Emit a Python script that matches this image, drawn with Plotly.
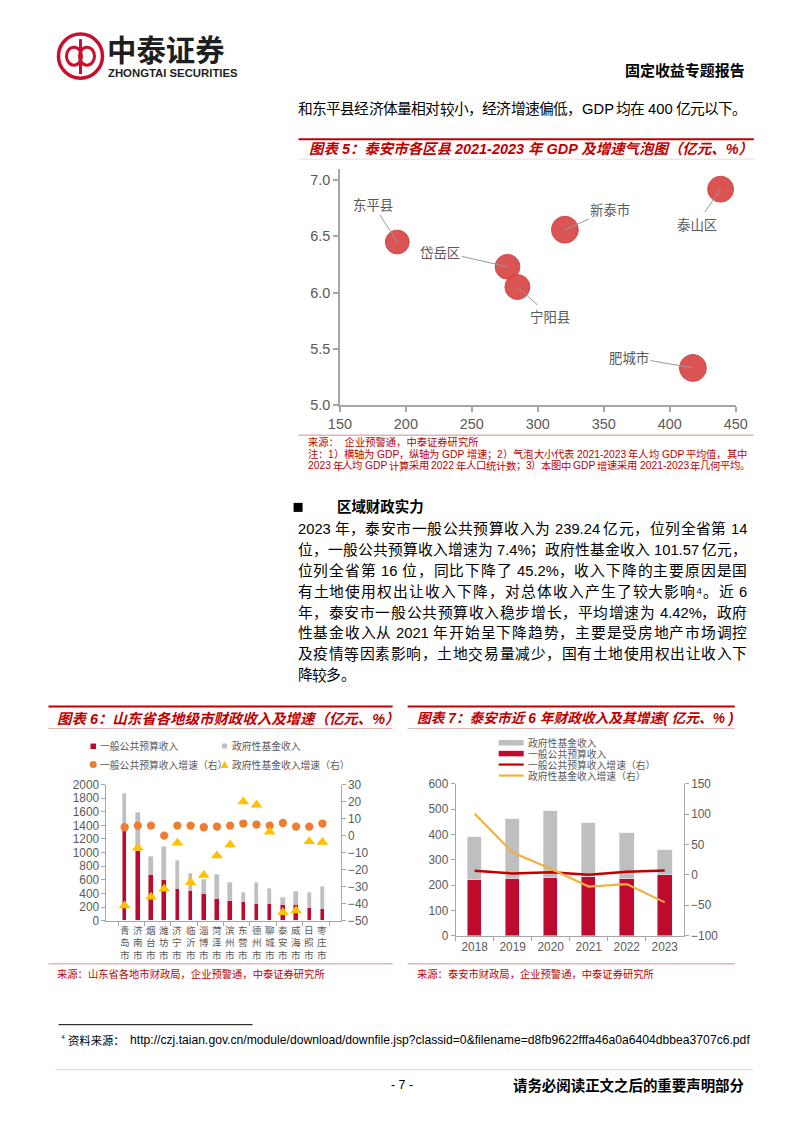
import re
import plotly.graph_objects as go

# Figure drawn inside the default 8px body margin; an empirical correction
# (SX, BX, SY, BY) maps reference page pixels to figure positions.
PAGE_W, PAGE_H = 802, 1133
OFF = 8
FW, FH = PAGE_W - 2 * OFF, PAGE_H - 2 * OFF
SX, BX = 0.969, 11.8
SY, BY = 0.986, 8.0
FSX = 1 / SX  # font/size correction

def X(px): return (((px - BX) / SX) - OFF) / FW
def Y(py): return 1 - (((py - BY) / SY) - OFF) / FH

# ---------------- data ----------------
# Chart 5: bubble chart
districts = ["东平县", "岱岳区", "宁阳县", "新泰市", "泰山区", "肥城市"]
gdp = [193.5, 277.0, 284.5, 320.5, 438.5, 417.5]
gdp_growth = [6.45, 6.23, 6.05, 6.56, 6.92, 5.33]
gdp_per_capita = [6.3, 6.8, 6.9, 8.0, 7.4, 8.0]

# Chart 6: Shandong cities
cities = ["青岛市", "济南市", "烟台市", "潍坊市", "济宁市", "临沂市", "淄博市", "菏泽市",
          "滨州市", "东营市", "德州市", "聊城市", "泰安市", "威海市", "日照市", "枣庄市"]
general_budget = [1338, 1030, 676, 610, 474, 442, 393, 318, 293, 283, 250, 249, 239.24, 238, 197, 182]
fund_revenue = [530, 553, 270, 483, 413, 246, 215, 354, 262, 124, 307, 219, 101.57, 184, 215, 323]
general_growth = [4.9, 5.9, 5.9, 0.0, 5.9, 5.9, 4.9, 5.3, 5.9, 7.1, 6.5, 5.9, 7.4, 5.3, 5.3, 7.1]
fund_growth = [-41.2, -7.3, -36.1, -31.4, -4.3, -27.5, -23.3, -11.8, -5.3, 20.0, 18.0, 2.2, -45.2, -44.1, -3.5, -3.9]

# Chart 7: Tai'an 6 years
years = ["2018", "2019", "2020", "2021", "2022", "2023"]
ta_general = [218.9, 224.2, 228.1, 230.8, 222.8, 239.24]
ta_fund = [171.4, 238.6, 266.4, 216.2, 184.6, 101.57]
ta_general_growth = [6.8, 2.3, 4.6, 0.2, 5.1, 7.4]
ta_fund_growth = [100.9, 37.0, 10.0, -19.1, -15.0, -45.2]

# Text
intro_line = "和东平县经济体量相对较小，经济增速偏低，GDP 均在 400 亿元以下。"
title5 = "图表 5：泰安市各区县 2021-2023 年 GDP 及增速气泡图（亿元、%）"
source5 = "来源：  企业预警通，中泰证券研究所"
note5 = ["注：1）横轴为 GDP，纵轴为 GDP 增速；2）气泡大小代表 2021-2023 年人均 GDP 平均值，其中",
         "2023 年人均 GDP 计算采用 2022 年人口统计数；3）本图中 GDP 增速采用 2021-2023 年几何平均。"]
heading = "区域财政实力"
paragraph = [
    "2023 年，泰安市一般公共预算收入为 239.24 亿元，位列全省第 14",
    "位，一般公共预算收入增速为 7.4%；政府性基金收入 101.57 亿元，",
    "位列全省第 16 位，同比下降了 45.2%，收入下降的主要原因是国",
    "有土地使用权出让收入下降，对总体收入产生了较大影响⁴。近 6",
    "年，泰安市一般公共预算收入稳步增长，平均增速为 4.42%，政府",
    "性基金收入从 2021 年开始呈下降趋势，主要是受房地产市场调控",
    "及疫情等因素影响，土地交易量减少，国有土地使用权出让收入下",
    "降较多。",
]
title6 = "图表 6：山东省各地级市财政收入及增速（亿元、%）"
legend6 = ["一般公共预算收入", "政府性基金收入", "一般公共预算收入增速（右）", "政府性基金收入增速（右）"]
source6 = "来源：山东省各地市财政局，企业预警通，中泰证券研究所"
title7 = "图表 7：泰安市近 6 年财政收入及其增速( 亿元、% )"
legend7 = ["政府性基金收入", "一般公共预算收入", "一般公共预算收入增速（右）", "政府性基金收入增速（右）"]
source7 = "来源：泰安市财政局，企业预警通，中泰证券研究所"
footnote_label = "资料来源："
footnote_url = "http://czj.taian.gov.cn/module/download/downfile.jsp?classid=0&amp;filename=d8fb9622fffa46a0a6404dbbea3707c6.pdf"
footer_page = "- 7 -"
footer_right = "请务必阅读正文之后的重要声明部分"
report_type = "固定收益专题报告"

# ---------------- styles ----------------
RED = "#BE0A2D"
DARKRED = "#C00000"
GRAY = "#BFBFBF"
ORANGE = "#ED7D31"
YELLOW = "#FFC000"
GOLD = "#F2B03E"
AX = "#A6A6A6"
TXT = "#595959"
FONT = "Liberation Sans, Noto Sans CJK SC, sans-serif"
PINK = "#E3B4B4"

fig = go.Figure()

vmax = max(gdp_per_capita)
fig.add_trace(go.Scatter(
    x=gdp, y=gdp_growth, mode="markers", text=districts,
    marker=dict(size=gdp_per_capita, sizemode="area", sizeref=2 * vmax / (26 * FSX) ** 2,
                color="#D94B4B", opacity=0.95, line=dict(width=1, color="#CF4040")),
    xaxis="x", yaxis="y", showlegend=False))

fig.add_trace(go.Bar(x=cities, y=general_budget, marker_color=RED, width=0.34,
                     xaxis="x2", yaxis="y2", showlegend=False))
fig.add_trace(go.Bar(x=cities, y=fund_revenue, marker_color=GRAY, width=0.34,
                     xaxis="x2", yaxis="y2", showlegend=False))
fig.add_trace(go.Scatter(x=cities, y=general_growth, mode="markers",
                         marker=dict(symbol="circle", size=8 * FSX, color=ORANGE),
                         xaxis="x2", yaxis="y3", showlegend=False))
fig.add_trace(go.Scatter(x=cities, y=fund_growth, mode="markers",
                         marker=dict(symbol="triangle-up", size=10 * FSX, color=YELLOW),
                         xaxis="x2", yaxis="y3", showlegend=False))

fig.add_trace(go.Bar(x=years, y=ta_general, marker_color=RED, width=0.39,
                     xaxis="x3", yaxis="y4", showlegend=False))
fig.add_trace(go.Bar(x=years, y=ta_fund, marker_color=GRAY, width=0.39,
                     xaxis="x3", yaxis="y4", showlegend=False))
fig.add_trace(go.Scatter(x=years, y=ta_general_growth, mode="lines",
                         line=dict(color=DARKRED, width=2.5),
                         xaxis="x3", yaxis="y5", showlegend=False))
fig.add_trace(go.Scatter(x=years, y=ta_fund_growth, mode="lines",
                         line=dict(color=GOLD, width=2.2),
                         xaxis="x3", yaxis="y5", showlegend=False))

annotations = []
shapes = []

def txt(s, px, py, size, color="#000", anchor="left", bold=False, italic=False, family=FONT):
    t = s
    if bold:
        t = "<b>" + t + "</b>"
    if italic:
        t = "<i>" + t + "</i>"
    annotations.append(dict(text=t, x=X(px), y=Y(py), xref="paper", yref="paper",
                            xanchor=anchor, yanchor="middle", showarrow=False, borderpad=0,
                            font=dict(size=size * FSX, color=color, family=family)))

def hline(x0, x1, y, color, width):
    shapes.append(dict(type="line", xref="paper", yref="paper", x0=X(x0), x1=X(x1),
                       y0=Y(y), y1=Y(y), line=dict(color=color, width=width)))

def rect(x0, x1, y0, y1, color):
    shapes.append(dict(type="rect", xref="paper", yref="paper", x0=X(x0), x1=X(x1),
                       y0=Y(y1), y1=Y(y0), fillcolor=color, line=dict(width=0)))

ASCII_W = {c: 0.556 for c in "0123456789"}
ASCII_W.update({".": 0.278, "%": 0.889, "-": 0.333, "G": 0.722, "D": 0.722, "P": 0.667,
                "⁴": 0.35})

def est_width(tok, fs):
    w = 0
    for ch in tok:
        if ord(ch) < 128 or ch == "⁴":
            w += ASCII_W.get(ch, 0.5) * fs
        else:
            w += fs
    return w

TOK = re.compile(r"\s+|[\x21-\x7e⁴]+|.")

def place_line(s, x0, x1, py, fs, color="#000", justify=True):
    toks = []
    sp = 0
    for m in TOK.finditer(s):
        t = m.group()
        if t.isspace():
            sp += len(t)
            continue
        toks.append((t, sp))
        sp = 0
    widths = [est_width(t, fs) for t, _ in toks]
    spaces = [n * 0.278 * fs for _, n in toks]
    natural = sum(widths) + sum(spaces[1:])
    ngaps = len(toks) - 1
    extra = (x1 - x0 - natural) / ngaps if (justify and ngaps > 0) else 0
    x = x0
    for k, (t, _) in enumerate(toks):
        if k > 0:
            x += spaces[k] + extra
        txt(t, x, py, fs, color)
        x += widths[k]

# ---------------- header ----------------
LOGO = "#C8102E"
shapes.append(dict(type="circle", xref="paper", yref="paper", x0=X(58), x1=X(102),
                   y0=Y(79), y1=Y(35), line=dict(color=LOGO, width=3.5)))
shapes.append(dict(type="circle", xref="paper", yref="paper", x0=X(66), x1=X(81),
                   y0=Y(66), y1=Y(48), line=dict(color=LOGO, width=3)))
shapes.append(dict(type="circle", xref="paper", yref="paper", x0=X(79), x1=X(94),
                   y0=Y(66), y1=Y(48), line=dict(color=LOGO, width=3)))
shapes.append(dict(type="line", xref="paper", yref="paper", x0=X(80), x1=X(80),
                   y0=Y(75), y1=Y(40), line=dict(color=LOGO, width=3)))
txt("中泰证券", 106, 48.5, 28.5, "#1E1E1E", bold=True, family="Noto Sans CJK SC")
txt("ZHONGTAI SECURITIES", 107, 74, 11, "#1E1E1E", bold=True, family="Liberation Sans")
txt(report_type, 745, 70, 14.5, "#000", anchor="right", bold=True, family="Noto Sans CJK SC")

place_line(intro_line, 296, 745, 110, 14.3)

# ---------------- chart 5 frame ----------------
hline(298, 753, 140, DARKRED, 2)
txt(title5, 307, 150, 14, DARKRED, bold=True, italic=True)
hline(298, 753, 160, "#F0D8D8", 1)
hline(298, 753, 436, PINK, 1.5)
txt(source5, 306, 443, 10, DARKRED)
place_line(note5[0], 306, 745, 455, 10, DARKRED)
place_line(note5[1], 306, 748, 466.5, 10, DARKRED)

label_offsets = [(-24, -38), (-65, -15), (32, 29), (44, -20), (-23, 34), (-62, -11)]
for name, gx, gy, (ax, ay) in zip(districts, gdp, gdp_growth, label_offsets):
    annotations.append(dict(text=name, x=gx, y=gy, xref="x", yref="y",
                            ax=ax / SX, ay=ay / SY,
                            showarrow=True, arrowhead=0, arrowwidth=1, arrowcolor="#9A9A9A",
                            standoff=0, startstandoff=0, borderpad=1,
                            font=dict(size=13 * FSX, color=TXT, family="Noto Sans CJK SC")))

# ---------------- paragraph ----------------
rect(293, 302, 503.5, 512.5, "#000")
txt(heading, 335, 507, 14, "#000", bold=True)
for i, line in enumerate(paragraph):
    py = 529.5 + i * 20.9
    place_line(line, 296, 745, py, 14.3, "#000", justify=(i < len(paragraph) - 1))

# ---------------- chart 6 frame ----------------
hline(48, 392, 707, DARKRED, 2)
txt(title6, 56, 719, 14, DARKRED, bold=True, italic=True)
hline(48, 392, 729, PINK, 1)
rect(90, 95.5, 744, 749.5, RED)
rect(221.5, 226.5, 744, 749, GRAY)
shapes.append(dict(type="circle", xref="paper", yref="paper", x0=X(89.2), x1=X(96.2),
                   y0=Y(768.5), y1=Y(761.5), fillcolor=ORANGE, line=dict(width=0)))
shapes.append(dict(type="path", xref="paper", yref="paper",
                   path=f"M {X(220)} {Y(768.5)} L {X(228)} {Y(768.5)} L {X(224)} {Y(761.5)} Z",
                   fillcolor=YELLOW, line=dict(width=0)))
txt(legend6[0], 99, 746.7, 9.5, TXT)
txt(legend6[1], 230, 746.7, 9.5, TXT)
txt(legend6[2], 99, 765, 9.5, TXT)
txt(legend6[3], 230, 765, 9.5, TXT)
for c in cities:
    annotations.append(dict(text="<br>".join(c), x=c, y=Y(942.5), xref="x2", yref="paper",
                            xanchor="center", yanchor="middle", showarrow=False, borderpad=0,
                            font=dict(size=9.3 * FSX, color=TXT, family="Noto Sans CJK SC")))
hline(48, 392, 964, PINK, 1.5)
txt(source6, 56, 974.5, 10, DARKRED)

# ---------------- chart 7 frame ----------------
hline(407, 734, 707, DARKRED, 2)
txt(title7, 415, 719, 13.3, DARKRED, bold=True, italic=True)
hline(407, 734, 729, PINK, 1)
rect(498, 523, 740.5, 746, GRAY)
rect(498, 523, 751.3, 756.8, RED)
hline(498, 523, 765, DARKRED, 2.2)
hline(498, 523, 776, GOLD, 2.2)
for i, lab in enumerate(legend7):
    txt(lab, 526, 743.3 + i * 10.9, 9.5, TXT)
hline(407, 734, 964, PINK, 1.5)
txt(source7, 415, 974.5, 10, DARKRED)

# ---------------- footer ----------------
hline(58, 252, 1025, "#000", 1)
txt("⁴", 60, 1038, 9, "#000")
txt(footnote_label, 67, 1040, 11, "#000", family="Noto Sans CJK SC")
txt(footnote_url, 128, 1040, 11.8, "#000", anchor="left", family="Liberation Sans")
hline(55, 752, 1070, "#E2CFCF", 1)
txt(footer_page, 401, 1085, 12, "#000", anchor="center")
txt(footer_right, 745, 1085, 14, "#000", anchor="right", bold=True, family="Noto Sans CJK SC")

axis_common = dict(showgrid=False, zeroline=False, showline=True, linecolor=AX, linewidth=1,
                   ticks="outside", tickcolor=AX, ticklen=4,
                   tickfont=dict(size=11.5 * FSX, color=TXT, family="Liberation Sans"))

fig.update_layout(
    width=FW, height=FH, autosize=False,
    margin=dict(l=0, r=0, t=0, b=0),
    paper_bgcolor="white", plot_bgcolor="rgba(0,0,0,0)",
    barmode="stack", bargap=0,
    showlegend=False,
    xaxis=dict(domain=[X(339.3), X(735)], range=[150, 450], anchor="y", dtick=50,
               showgrid=False, zeroline=False, showline=True, linecolor=AX, linewidth=1.5,
               ticks="outside", tickcolor=AX, ticklen=5, tickwidth=1.5,
               tickfont=dict(size=14 * FSX, color=TXT, family="Liberation Sans")),
    yaxis=dict(domain=[Y(405.7), Y(170)], range=[5, 7.098], anchor="x", dtick=0.5, tick0=5,
               tickformat=".1f",
               showgrid=False, zeroline=False, showline=True, linecolor=AX, linewidth=1.5,
               ticks="outside", tickcolor=AX, ticklen=5, tickwidth=1.5,
               tickfont=dict(size=14 * FSX, color=TXT, family="Liberation Sans")),
    xaxis2=dict(domain=[X(106), X(340)], anchor="y2", type="category",
                showticklabels=False, tickson="boundaries", **axis_common),
    yaxis2=dict(domain=[Y(921), Y(785)], anchor="x2", range=[0, 2000], dtick=200, **axis_common),
    yaxis3=dict(overlaying="y2", side="right", anchor="x2", range=[-50, 30], dtick=10,
                **axis_common),
    xaxis3=dict(domain=[X(455), X(683)], anchor="y4", type="category",
                tickson="boundaries", **axis_common),
    yaxis4=dict(domain=[Y(936), Y(784.3)], anchor="x3", range=[0, 600], dtick=100, **axis_common),
    yaxis5=dict(overlaying="y4", side="right", anchor="x3", range=[-100, 150], dtick=50,
                **axis_common),
    annotations=annotations,
    shapes=shapes,
)

fig.write_html("out.html", config={"displayModeBar": False})
